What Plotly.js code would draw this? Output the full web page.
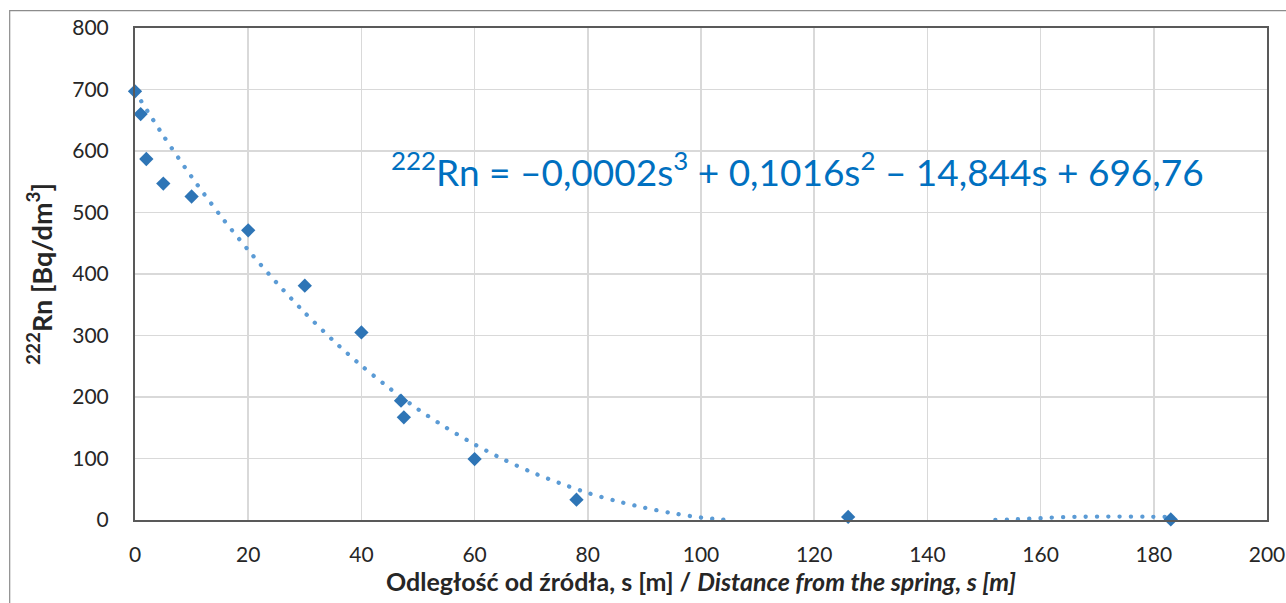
<!DOCTYPE html>
<html>
<head>
<meta charset="utf-8">
<script src="https://cdn.plot.ly/plotly-3.0.1.min.js"></script>
<style>
html,body{margin:0;padding:0;background:#fff;}
#chart{width:1286px;height:603px;}
.scatterlayer .js-line{stroke-linecap:round !important;}
</style>
</head>
<body>
<div id="chart"></div>
<script>
// Measured points: distance from spring s [m] and 222Rn [Bq/dm3]
const distance = [0, 1, 2, 5, 10, 20, 30, 40, 47, 47.5, 60, 78, 126, 183];
const radon = [697, 660, 587, 547, 526, 471, 381, 305, 194, 167, 99, 33, 5, 1];

// Trend line (polynomial, order 3), visible parts only
const trendS = [0, 5, 10, 15, 20, 25, 30, 35, 40, 45, 50, 55, 60, 65, 70, 75, 80, 85, 90, 95, 100, 105,
                null,
                152, 155, 158, 161, 164, 167, 170, 173, 176, 179, 183];
const trendRn = [697, 625, 558, 496, 439, 386, 337, 292, 251, 214, 180, 150, 123, 99, 78, 60, 44, 31, 20, 11, 4, 0,
                 null,
                 0, 0.8, 2.3, 3.6, 4.6, 5.2, 5.5, 5.6, 5.5, 5.3, 5];

const xTicks = [0, 20, 40, 60, 80, 100, 120, 140, 160, 180, 200];
const yTicks = [0, 100, 200, 300, 400, 500, 600, 700, 800];

const equationText = '<sup>222</sup>Rn = \u20130,0002s<sup>3</sup> + 0,1016s<sup>2</sup> \u2013 14,844s + 696,76';
const xTitle = '<b>Odległość od źródła, s [m] / <i>Distance from the spring, s [m]</i></b>';
const yTitle = '<b><sup>222</sup>Rn [Bq/dm<sup>3</sup>]</b>';

const FONT = 'Lato, "Open Sans", sans-serif';

const traces = [
  {
    x: trendS, y: trendRn, type: 'scatter', mode: 'lines',
    line: {color: '#5B9BD5', width: 4.3, dash: '0.1px,11.2px', shape: 'spline', smoothing: 0.8},
    connectgaps: false, cliponaxis: false, hoverinfo: 'skip', showlegend: false
  },
  {
    x: distance, y: radon, type: 'scatter', mode: 'markers',
    marker: {symbol: 'diamond', size: 11, color: '#2E75B6', line: {width: 0}},
    cliponaxis: false, showlegend: false
  }
];

const layout = {
  width: 1286, height: 603,
  margin: {l: 135, r: 19, t: 28, b: 83, pad: 0},
  paper_bgcolor: '#ffffff', plot_bgcolor: '#ffffff',
  font: {family: FONT, size: 21, color: '#262626'},
  showlegend: false,
  xaxis: {
    range: [0, 200], tickvals: xTicks, ticktext: xTicks.map(String),
    showgrid: true, gridcolor: '#d9d9d9', gridwidth: 1.5,
    showline: true, linecolor: '#595959', linewidth: 2, mirror: true,
    zeroline: false, ticks: '', ticklabelstandoff: 15,
    tickfont: {family: FONT, size: 21, color: '#262626'},
    title: {text: xTitle, font: {family: FONT, size: 25, color: '#262626'}, standoff: 6},
    automargin: false
  },
  yaxis: {
    range: [0, 800], tickvals: yTicks, ticktext: yTicks.map(String),
    showgrid: true, gridcolor: '#d9d9d9', gridwidth: 1.5,
    showline: true, linecolor: '#595959', linewidth: 2, mirror: true,
    zeroline: false, ticks: '', ticklabelstandoff: 20,
    tickfont: {family: FONT, size: 21, color: '#262626'},
    title: {text: yTitle, font: {family: FONT, size: 27, color: '#262626'}, standoff: 12},
    automargin: false
  },
  annotations: [
    {
      xref: 'x', yref: 'y', x: 117, y: 570, xanchor: 'center', yanchor: 'middle',
      text: equationText, showarrow: false,
      font: {family: FONT, size: 37, color: '#0070C0'}
    }
  ],
  shapes: [
    {
      type: 'rect', xref: 'paper', yref: 'paper', layer: 'below',
      x0: -0.1107, x1: 1.03, y0: -0.2, y1: 1.0352,
      line: {color: '#8c8c8c', width: 1.2}, fillcolor: 'rgba(0,0,0,0)'
    }
  ]
};

Plotly.newPlot('chart', traces, layout, {displayModeBar: false, staticPlot: true});
</script>
</body>
</html>
